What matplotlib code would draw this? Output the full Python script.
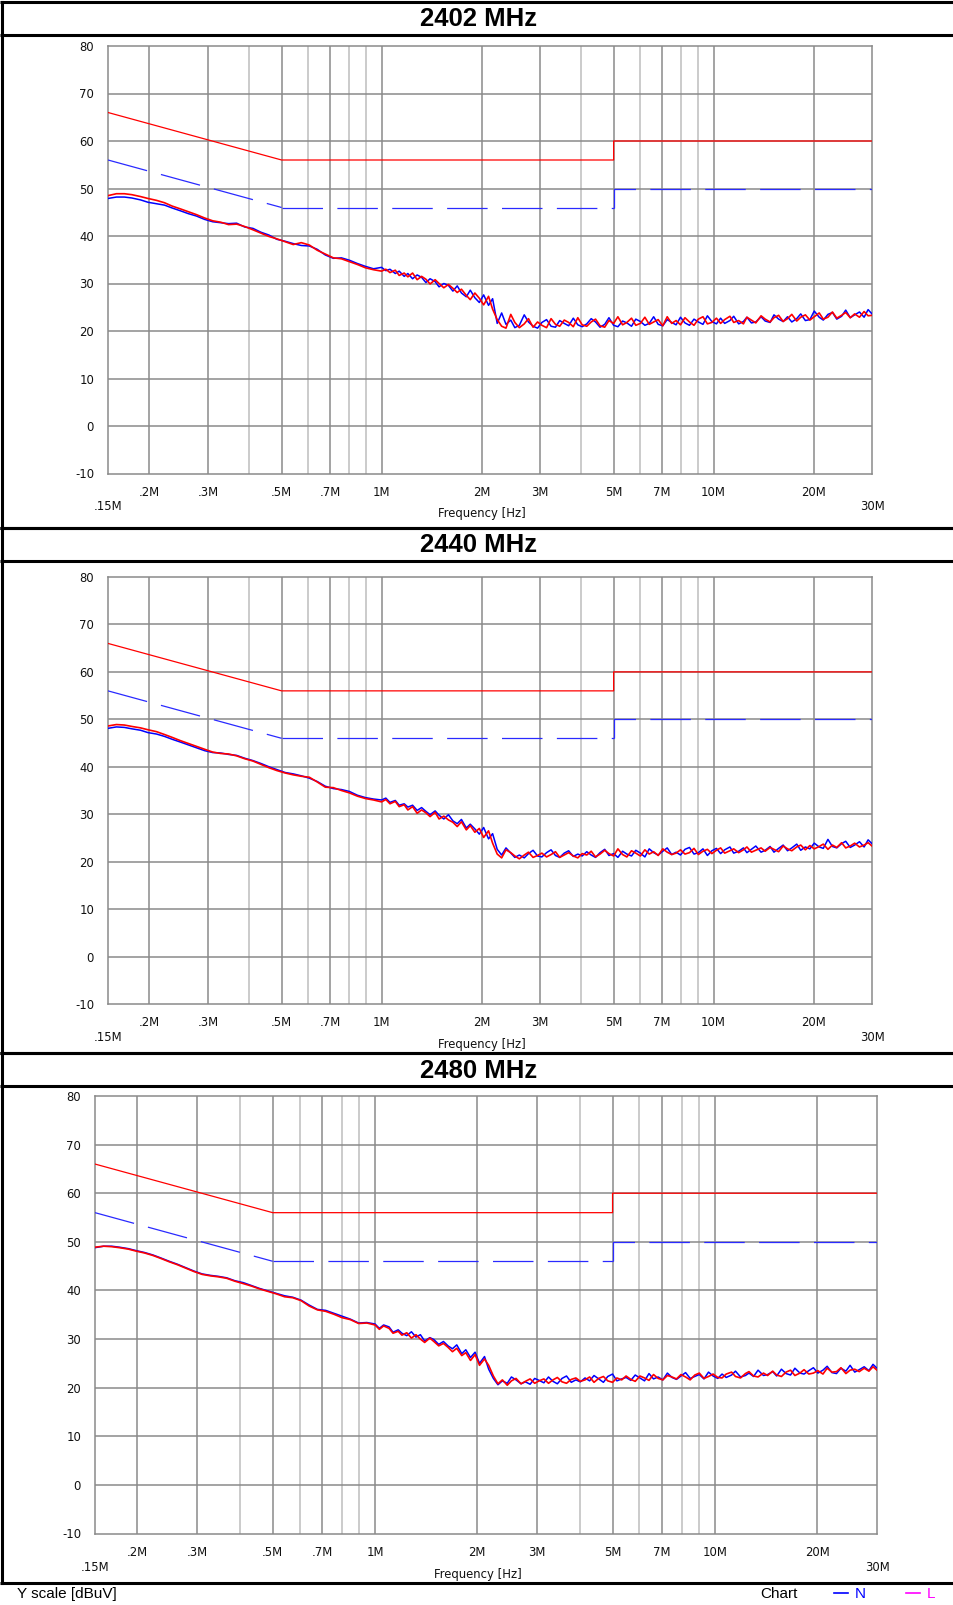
import matplotlib
matplotlib.use("Agg")
import matplotlib.pyplot as plt

W, H = 954, 1605

# ---------------- data ----------------
titles = ["2402 MHz", "2440 MHz", "2480 MHz"]

freq_mhz = [
    0.150, 0.159, 0.168, 0.177, 0.188, 0.198, 0.210, 0.222, 0.234, 0.248,
    0.262, 0.277, 0.293, 0.310, 0.328, 0.346, 0.366, 0.387, 0.410, 0.433,
    0.458, 0.484, 0.512, 0.542, 0.573, 0.606, 0.640, 0.677, 0.716, 0.757,
    0.800, 0.846, 0.895, 0.946, 1.00, 1.03, 1.06, 1.10, 1.13, 1.17,
    1.20, 1.24, 1.28, 1.32, 1.36, 1.40, 1.45, 1.49, 1.54, 1.59,
    1.64, 1.69, 1.74, 1.80, 1.85, 1.91, 1.97, 2.03, 2.10, 2.16,
    2.23, 2.30, 2.37, 2.45, 2.52, 2.60, 2.69, 2.77, 2.86, 2.95,
    3.04, 3.14, 3.24, 3.34, 3.44, 3.55, 3.66, 3.78, 3.90, 4.02,
    4.15, 4.28, 4.41, 4.55, 4.70, 4.84, 5.00, 5.15, 5.32, 5.48,
    5.66, 5.83, 6.02, 6.21, 6.40, 6.60, 6.81, 7.03, 7.25, 7.48,
    7.71, 7.95, 8.20, 8.46, 8.73, 9.00, 9.29, 9.58, 9.88, 10.2,
    10.5, 10.8, 11.2, 11.5, 11.9, 12.3, 12.6, 13.0, 13.4, 13.9,
    14.3, 14.8, 15.2, 15.7, 16.2, 16.7, 17.2, 17.8, 18.3, 18.9,
    19.5, 20.1, 20.8, 21.4, 22.1, 22.8, 23.5, 24.3, 25.0, 25.8,
    26.6, 27.5, 28.4, 29.2, 30.0,
]

n_2402 = [
    47.9, 48.2, 48.2, 48.0, 47.6, 47.1, 46.8, 46.5, 45.9, 45.3,
    44.7, 44.2, 43.5, 43.0, 42.8, 42.6, 42.7, 41.9, 41.6, 40.8,
    40.2, 39.3, 38.9, 38.4, 38.0, 37.9, 37.2, 36.0, 35.3, 35.4,
    34.9, 34.2, 33.6, 33.1, 33.4, 32.7, 33.0, 32.1, 32.6, 31.5,
    32.1, 31.0, 31.8, 31.3, 30.2, 31.0, 30.4, 29.3, 30.0, 29.6,
    28.4, 29.5, 28.0, 27.2, 28.6, 27.0, 26.0, 27.6, 25.4, 26.8,
    21.6, 23.8, 21.4, 22.3, 20.7, 21.2, 23.4, 21.9, 21.0, 20.6,
    21.8, 22.4, 21.0, 20.8, 22.2, 21.6, 21.1, 22.7, 21.3, 20.9,
    21.5, 22.6, 21.9, 20.8, 21.4, 22.8, 21.2, 20.9, 22.1, 21.7,
    21.0, 22.5, 22.0, 21.2, 21.6, 23.0, 21.4, 21.1, 22.4, 21.8,
    21.3, 22.9, 21.7, 21.2, 22.5, 21.9, 21.4, 23.2, 22.0, 21.5,
    22.7, 21.6, 22.2, 23.1, 21.5, 22.0, 22.9, 21.7, 21.9, 23.0,
    22.1, 21.8, 23.4, 22.5, 22.0, 23.0, 21.9, 22.6, 23.6, 22.2,
    22.4, 24.2, 22.9, 22.3, 23.5, 23.9, 22.5, 23.1, 24.4, 22.8,
    23.4, 24.0, 22.9, 24.5, 23.6,
]
l_2402 = [
    48.5, 48.9, 48.9, 48.7, 48.3, 47.9, 47.5, 47.0, 46.3, 45.7,
    45.1, 44.5, 43.8, 43.2, 42.9, 42.4, 42.5, 42.0, 41.3, 40.6,
    39.9, 39.4, 38.8, 38.2, 38.6, 38.1, 37.0, 36.2, 35.4, 35.2,
    34.6, 34.0, 33.3, 32.9, 32.6, 33.0, 32.3, 32.8, 31.7, 32.2,
    31.4, 32.2, 30.8, 31.5, 30.9, 29.9, 30.8, 30.0, 29.1, 29.8,
    29.0, 28.1, 28.8, 27.5, 26.6, 28.0, 26.9, 25.5, 27.3, 24.6,
    22.4, 21.0, 20.6, 23.5, 21.8, 20.7, 21.5, 22.6, 20.8, 21.9,
    21.2, 20.7, 22.6, 21.4, 21.0, 22.3, 21.8, 20.9, 22.8, 21.3,
    21.0, 21.9, 22.5, 21.1, 20.8, 22.2, 21.6, 23.0, 21.3, 21.8,
    22.7, 21.2, 21.6, 22.9, 21.4, 21.9, 22.4, 21.1, 23.0, 21.6,
    22.2, 21.3, 22.8, 21.9, 21.2, 22.5, 23.0, 21.5, 21.8, 22.7,
    21.6, 22.4, 23.1, 21.8, 22.2, 21.5, 22.9, 22.3, 21.7, 23.2,
    22.5, 21.9, 22.8, 23.3, 22.0, 22.6, 23.5, 22.1, 22.9, 23.4,
    22.3, 23.0, 23.8, 22.5, 22.9, 24.0, 22.7, 23.3, 23.9, 22.8,
    23.6, 22.9, 24.1, 23.2, 23.3,
]

n_2440 = [
    48.1, 48.4, 48.3, 48.0, 47.7, 47.2, 46.9, 46.4, 45.8, 45.2,
    44.6, 44.0, 43.4, 43.0, 42.9, 42.6, 42.4, 41.8, 41.3, 40.7,
    40.0, 39.4, 38.8, 38.5, 38.1, 37.6, 36.9, 35.9, 35.4, 35.2,
    34.8, 34.0, 33.5, 33.2, 33.0, 33.4, 32.5, 32.9, 31.9, 32.2,
    31.5, 31.9, 30.8, 31.4, 30.6, 29.9, 30.7, 29.8, 29.0, 29.9,
    28.6, 28.0, 28.9, 27.1, 27.9, 26.9, 25.8, 27.2, 24.8, 25.9,
    22.6, 21.4, 22.9, 21.8, 20.9, 21.4, 20.8, 21.7, 22.4, 21.2,
    21.0, 21.9, 22.5, 21.3, 20.9, 21.8, 22.3, 21.1, 21.6, 21.2,
    22.1, 21.4, 20.9, 21.9, 22.6, 21.3, 21.7, 20.9, 22.2, 21.6,
    21.2, 22.4, 21.8, 21.0, 22.7, 21.9, 21.4, 22.2, 22.9, 21.5,
    22.0, 21.4, 22.6, 23.0, 21.6, 21.9, 22.7, 21.3, 22.3, 22.8,
    21.7, 22.5, 23.1, 21.8, 22.2, 22.9, 21.9, 22.6, 23.3, 22.0,
    22.4, 23.2, 22.0, 22.8, 23.5, 22.3, 22.9, 23.7, 22.4, 23.1,
    22.7, 23.9, 23.1, 22.8, 24.7, 23.2, 22.9, 23.8, 24.3, 23.0,
    23.5, 24.2, 23.1, 24.6, 23.8,
]
l_2440 = [
    48.6, 48.9, 48.8, 48.5, 48.2, 47.8, 47.4, 46.8, 46.2, 45.5,
    44.9, 44.3, 43.7, 43.1, 42.8, 42.7, 42.3, 41.7, 41.2, 40.5,
    39.8, 39.2, 38.7, 38.3, 38.0, 37.8, 36.8, 35.7, 35.6, 35.0,
    34.5, 33.8, 33.3, 33.0, 32.6, 33.1, 32.2, 32.7, 31.6, 32.0,
    30.9, 31.6, 30.2, 30.9, 30.3, 29.5, 30.4, 29.0, 29.6, 28.8,
    28.3, 27.4, 28.4, 26.7, 27.6, 26.2, 27.0, 25.1, 26.5, 23.9,
    21.6, 20.8, 22.5, 21.9, 21.2, 20.6, 21.4, 22.0, 20.9, 21.3,
    21.8, 21.0, 21.5, 22.1, 20.9, 21.4, 21.9, 21.2, 20.8, 21.7,
    21.4, 22.2, 21.0, 21.6, 22.4, 21.7, 21.2, 22.7, 21.5, 21.0,
    22.3, 21.8, 21.2, 22.5, 21.6, 22.1, 21.3, 22.7, 22.0, 21.5,
    21.8, 22.5, 21.6, 21.9, 22.8, 21.5, 22.2, 22.6, 21.7, 22.4,
    22.9, 21.8, 22.3, 22.7, 21.9, 22.5, 23.1, 22.0, 22.4, 22.9,
    22.2, 23.0, 22.6, 22.1, 23.3, 22.7, 22.3, 23.1, 23.5, 22.5,
    23.4, 22.7, 23.2, 23.7, 22.6, 23.5, 23.0, 24.0, 22.9, 23.3,
    23.9, 23.1, 23.5, 24.0, 23.3,
]

n_2480 = [
    48.8, 49.1, 49.1, 48.9, 48.6, 48.2, 47.8, 47.3, 46.7, 46.0,
    45.4, 44.7, 44.0, 43.4, 43.1, 42.9, 42.6, 42.0, 41.6, 41.0,
    40.4, 39.9, 39.4, 38.9, 38.6, 38.0, 37.0, 36.1, 35.9, 35.3,
    34.7, 34.1, 33.3, 33.4, 33.1, 32.2, 32.9, 32.5, 31.4, 31.9,
    31.2, 30.7, 31.5, 30.4, 30.9, 29.6, 30.3, 29.9, 28.9, 29.5,
    28.6, 28.0, 28.8, 27.0, 27.8, 26.2, 27.3, 25.0, 26.4, 23.8,
    21.9, 20.6, 21.4, 20.9, 22.2, 21.6, 20.8, 21.2, 20.7, 21.9,
    21.5, 21.0, 22.2, 21.3, 20.8, 21.9, 22.4, 21.1, 21.6, 21.2,
    22.0, 21.4, 22.5, 21.8, 21.1, 22.3, 22.8, 21.4, 21.8, 22.1,
    21.5, 22.6, 22.0, 21.4, 22.9, 21.8, 22.2, 21.6, 23.0, 22.1,
    21.7, 22.4, 23.1, 21.9, 22.3, 22.7, 21.8, 23.2, 22.4, 21.9,
    22.8, 22.1, 22.6, 23.4, 22.2, 22.5, 23.0, 22.3, 23.6, 22.5,
    22.7, 23.3, 22.4, 23.8, 22.9, 22.6, 24.0, 23.0, 22.8, 23.5,
    24.1, 23.0, 23.6, 24.4, 23.1, 22.9, 24.0, 23.4, 24.6, 23.2,
    23.7, 24.3, 23.5, 24.8, 24.0,
]
l_2480 = [
    48.9, 49.1, 49.0, 48.8, 48.5, 48.1, 47.7, 47.2, 46.6, 45.9,
    45.3, 44.6, 43.9, 43.3, 43.0, 42.8, 42.5, 41.9, 41.4, 40.9,
    40.3, 39.8, 39.3, 38.7, 38.5, 37.9, 36.8, 36.0, 35.7, 35.1,
    34.4, 34.0, 33.2, 33.3, 32.9, 32.0, 32.7, 32.2, 31.2, 31.6,
    30.8, 31.3, 30.2, 30.9, 30.0, 29.3, 30.2, 29.5, 28.6, 29.1,
    28.3, 27.4, 28.1, 26.6, 27.2, 25.6, 26.8, 24.6, 25.9, 24.6,
    22.4, 20.8, 21.6, 20.5, 21.4, 21.9, 20.8, 21.3, 21.8, 20.9,
    21.4, 21.8, 20.9, 21.6, 22.1, 21.2, 20.9, 21.7, 22.0, 21.3,
    21.6, 22.2, 21.1, 21.9, 22.3, 21.4, 21.1, 22.0, 21.6, 22.4,
    21.7, 21.3, 22.4, 22.0, 21.5, 22.7, 21.9, 21.6, 22.5, 22.2,
    21.8, 22.7, 22.2, 21.6, 22.6, 23.0, 21.9, 22.3, 22.8, 22.1,
    22.0, 22.8, 23.2, 22.3, 22.0, 22.9, 23.3, 22.4, 22.2, 23.0,
    22.5, 23.4, 22.6, 22.3, 23.2, 23.6, 22.5, 23.0, 23.7, 22.8,
    23.0, 23.5, 22.8, 24.0, 23.2, 23.3, 24.1, 22.9, 23.6, 23.8,
    23.3, 24.0, 23.4, 24.3, 23.6,
]

n_series = [n_2402, n_2440, n_2480]
l_series = [l_2402, l_2440, l_2480]

# limit lines (quasi-peak and average)
limit_freq = [0.15, 0.5, 5.0, 5.0, 30.0]
qp_limit = [66, 56, 56, 60, 60]
av_limit = [56, 46, 46, 50, 50]

labeled_ticks = [0.2, 0.3, 0.5, 0.7, 1, 2, 3, 5, 7, 10, 20]
labeled_text = [".2M", ".3M", ".5M", ".7M", "1M", "2M", "3M", "5M", "7M", "10M", "20M"]
minor_grid = [0.4, 0.6, 0.8, 0.9, 4, 6, 8, 9]
y_ticks = [-10, 0, 10, 20, 30, 40, 50, 60, 70, 80]

# ---------------- layout (pixels) ----------------
panels = [
    dict(top=2, sep=35, bottom=528, ax=(108, 46, 872, 473.5)),
    dict(top=528, sep=561, bottom=1053, ax=(108, 577, 872, 1004)),
    dict(top=1053, sep=1086, bottom=1583, ax=(95, 1096, 877, 1533.5)),
]

fig = plt.figure(figsize=(W / 100, H / 100), dpi=100)
fig.patch.set_facecolor("white")

bg = fig.add_axes([0, 0, 1, 1])
bg.set_xlim(0, W)
bg.set_ylim(H, 0)
bg.axis("off")
bg.set_zorder(-5)

TICK_FONT = dict(family="DejaVu Sans", size=8.4, color="#111111")

for i, p in enumerate(panels):
    # frame and title bar
    for y in (p["top"], p["sep"], p["bottom"]):
        bg.plot([0, W + 10], [y, y], color="black", lw=2.2, solid_capstyle="butt")
    bg.plot([2, 2], [p["top"], p["bottom"]], color="black", lw=2.2)
    bg.text(479, (p["top"] + p["sep"]) / 2 + 1, titles[i], ha="center", va="center",
            fontsize=18.5, fontweight="bold", family="Liberation Sans", color="black")

    l, t, r, b = p["ax"]
    ax = fig.add_axes([l / W, 1 - b / H, (r - l) / W, (b - t) / H])
    ax.set_xscale("log")
    ax.set_xlim(0.15, 30)
    ax.set_ylim(-10, 80)
    ax.minorticks_off()

    for f in labeled_ticks:
        ax.axvline(f, color="#8a8a8a", lw=1.1, zorder=1)
    for f in minor_grid:
        ax.axvline(f, color="#bdbdbd", lw=1.1, zorder=1)
    for yv in y_ticks[1:-1]:
        ax.axhline(yv, color="#8a8a8a", lw=1.1, zorder=1)

    for s in ax.spines.values():
        s.set_color("#8a8a8a")
        s.set_linewidth(1.1)

    ax.set_xticks(labeled_ticks)
    ax.set_xticklabels(labeled_text, fontdict=TICK_FONT)
    ax.set_yticks(y_ticks)
    ax.set_yticklabels([str(v) for v in y_ticks], fontdict=TICK_FONT)
    ax.tick_params(axis="both", length=0)
    ax.tick_params(axis="x", pad=9)
    ax.tick_params(axis="y", pad=10)

    ax.text(0.0, -0.078, ".15M", transform=ax.transAxes, ha="center", va="center", **TICK_FONT)
    ax.text(1.0, -0.078, "30M", transform=ax.transAxes, ha="center", va="center", **TICK_FONT)
    ax.text(0.49, -0.094, "Frequency [Hz]", transform=ax.transAxes, ha="center", va="center",
            **TICK_FONT)

    # limits
    ax.plot(limit_freq, qp_limit, color="#ff0000", lw=0.9, zorder=3)
    for s0, s1 in ((0, 2), (1, 3), (2, 5)):
        ax.plot(limit_freq[s0:s1], av_limit[s0:s1], color="#2a2aff", lw=0.9, zorder=3,
                dashes=(32.4, 11.5))

    # measured traces
    ax.plot(freq_mhz, n_series[i], color="#0000ff", lw=1.1, zorder=4)
    ax.plot(freq_mhz, l_series[i], color="#ff0000", lw=1.2, zorder=5)

# footer
FOOT = dict(family="Liberation Sans", size=11, va="center")
bg.text(17, 1594, "Y scale [dBuV]", ha="left", color="black", **FOOT)
bg.text(760, 1594, "Chart", ha="left", color="black", **FOOT)
bg.plot([834, 848], [1593, 1593], color="#0000ff", lw=1.2)
bg.text(855, 1594, "N", ha="left", color="#0000ff", **FOOT)
bg.plot([906, 920], [1593, 1593], color="#ff00ff", lw=1.2)
bg.text(927, 1594, "L", ha="left", color="#ff00ff", **FOOT)

fig.savefig("out.png", dpi=100, facecolor="white")
